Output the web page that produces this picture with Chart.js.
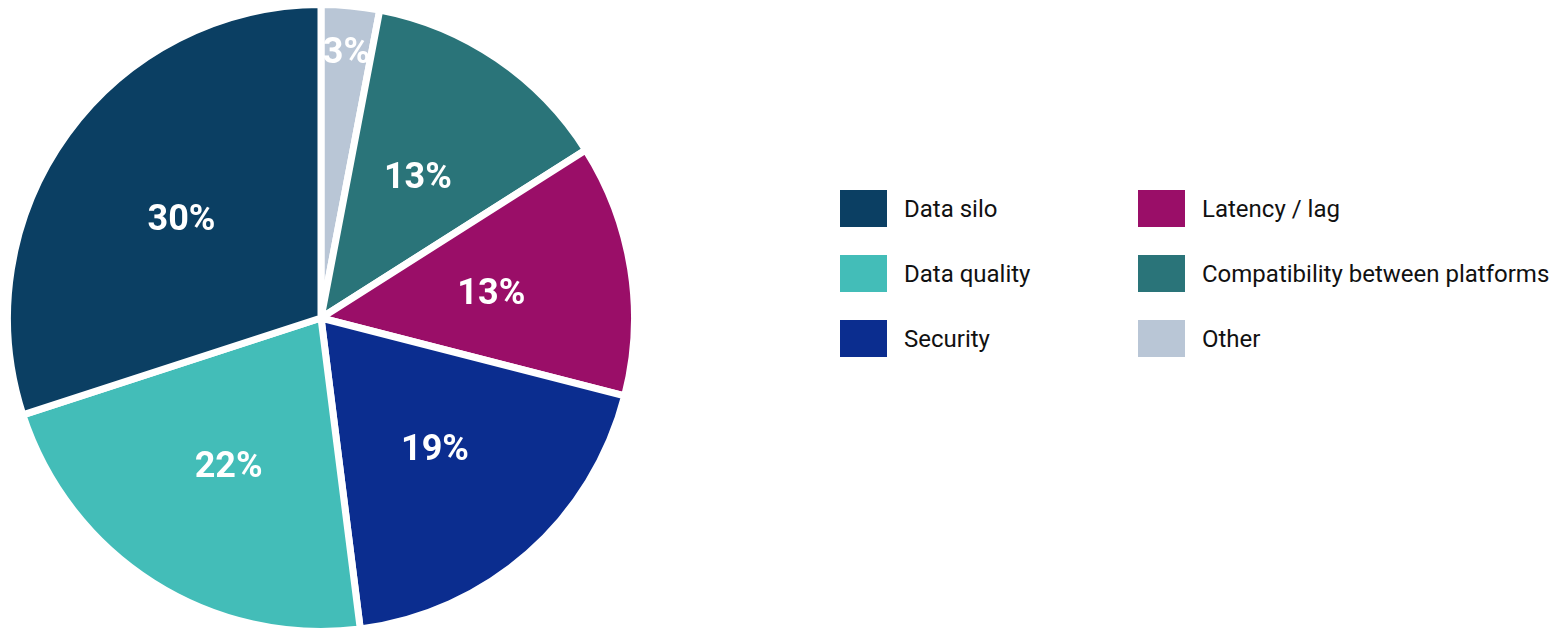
<!DOCTYPE html>
<html>
<head>
<meta charset="utf-8">
<script src="https://cdn.jsdelivr.net/npm/chart.js@4.4.1/dist/chart.umd.min.js"></script>
<style>
  html,body{margin:0;padding:0;background:#fff;}
  body{width:1559px;height:629px;position:relative;overflow:hidden;font-family:Roboto,"Noto Sans",sans-serif;}
  #wrap{position:absolute;left:0;top:1px;width:642px;height:634px;}
  #legend{position:absolute;left:840px;top:190px;display:grid;grid-template-columns:298px auto;row-gap:28px;}
  .item{display:flex;align-items:center;height:37px;font-size:24px;color:#111;}
  .sw{width:47px;height:37px;margin-right:17px;flex:none;}
</style>
</head>
<body>
<div id="wrap"><canvas id="pie"></canvas></div>
<div id="legend"></div>
<script>
// slices, clockwise from 12 o'clock
const labels = ['Other','Compatibility between platforms','Latency / lag','Security','Data quality','Data silo'];
const values = [3, 13, 13, 19, 22, 30];
const colors = ['#b9c6d6','#2a7479','#9a0e68','#0b2d8f','#43bdb8','#0b3f63'];
// legend order (column by column)
const legendOrder = ['Data silo','Latency / lag','Data quality','Compatibility between platforms','Security','Other'];

const pctLabels = {
  id:'pctLabels',
  afterDatasetsDraw(chart){
    const ctx = chart.ctx;
    const meta = chart.getDatasetMeta(0);
    const total = values.reduce((a,b)=>a+b,0);
    const size = 36;
    ctx.save();
    ctx.fillStyle = '#fff';
    ctx.font = 'bold ' + size + 'px Roboto, sans-serif';
    ctx.textAlign = 'center';
    ctx.textBaseline = 'alphabetic';
    meta.data.forEach((arc,i) => {
      const p = arc.getProps(['x','y','startAngle','endAngle','outerRadius']);
      const mid = (p.startAngle + p.endAngle)/2;
      const f = values[i]/total < 0.05 ? 0.86 : 0.55;
      const x = p.x + Math.cos(mid)*p.outerRadius*f;
      const y = p.y + Math.sin(mid)*p.outerRadius*f;
      ctx.fillText(Math.round(values[i]/total*100) + '%', x, y + size*0.36);
    });
    ctx.restore();
  }
};

new Chart(document.getElementById('pie').getContext('2d'), {
  type:'pie',
  data:{ labels, datasets:[{ data:values, backgroundColor:colors, borderColor:'#fff', borderWidth:7 }] },
  options:{
    responsive:true, maintainAspectRatio:false, animation:false,
    layout:{ padding:0 },
    plugins:{ legend:{ display:false }, tooltip:{ enabled:false } }
  },
  plugins:[pctLabels]
});

const lg = document.getElementById('legend');
legendOrder.forEach(name => {
  const i = labels.indexOf(name);
  const d = document.createElement('div');
  d.className = 'item';
  d.innerHTML = '<span class="sw" style="background:' + colors[i] + '"></span>' + name;
  lg.appendChild(d);
});
</script>
</body>
</html>
